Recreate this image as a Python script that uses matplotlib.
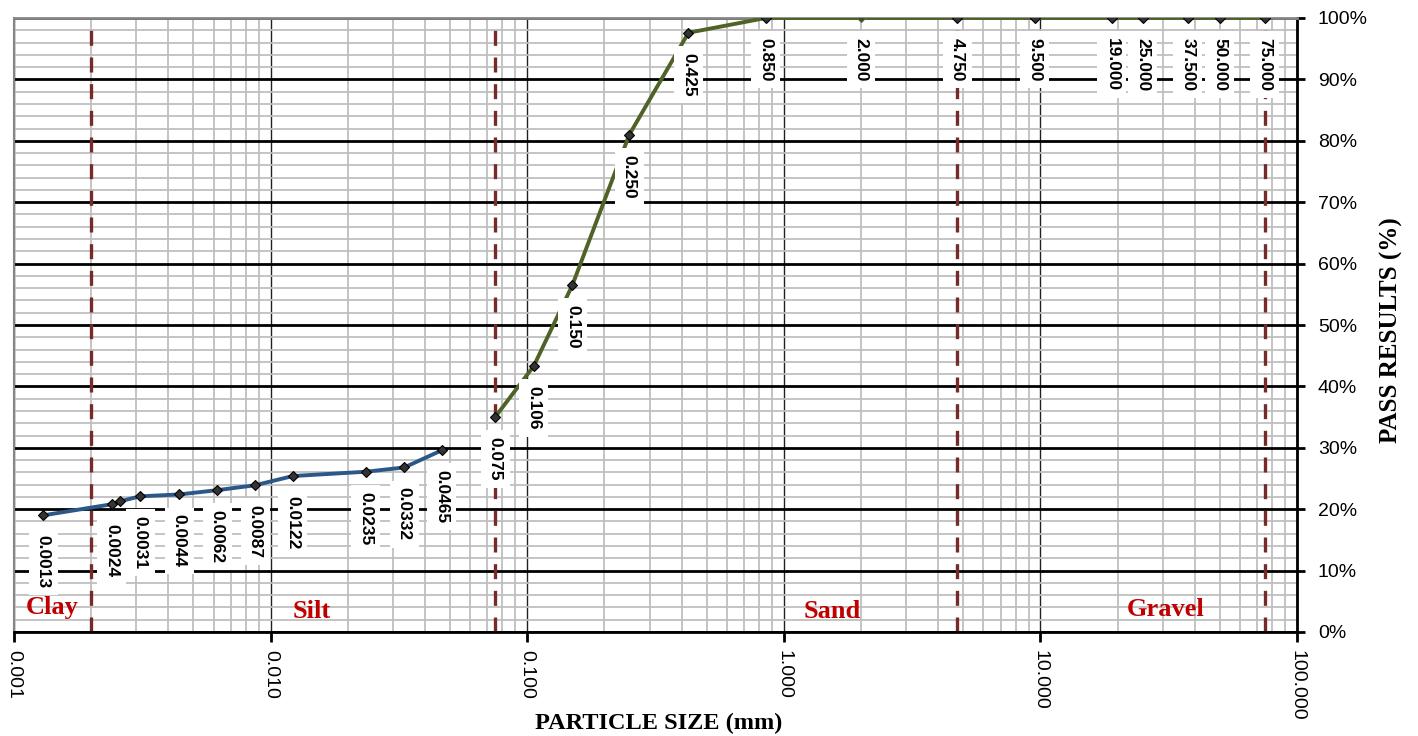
import numpy as np
import matplotlib
matplotlib.use("Agg")
import matplotlib.pyplot as plt
from matplotlib.ticker import FixedLocator, FuncFormatter, NullFormatter

# Hydrometer analysis (fine fraction)
hydro_size = [0.0013, 0.0024, 0.0026, 0.0031, 0.0044, 0.0062, 0.0087, 0.0122, 0.0235, 0.0332, 0.0465]
hydro_pass = [19.0, 20.8, 21.3, 22.1, 22.4, 23.1, 23.9, 25.4, 26.1, 26.8, 29.6]
hydro_labels = ["0.0013", "0.0024", None, "0.0031", "0.0044", "0.0062", "0.0087",
                "0.0122", "0.0235", "0.0332", "0.0465"]

# Sieve analysis (coarse fraction)
sieve_size = [0.075, 0.106, 0.150, 0.250, 0.425, 0.850, 2.0, 4.75, 9.5, 19.0, 25.0, 37.5, 50.0, 75.0]
sieve_pass = [35.0, 43.3, 56.5, 81.0, 97.6, 100.0, 100.0, 100.0, 100.0, 100.0, 100.0, 100.0, 100.0, 100.0]
sieve_labels = ["0.075", "0.106", "0.150", "0.250", "0.425", "0.850", "2.000", "4.750",
                "9.500", "19.000", "25.000", "37.500", "50.000", "75.000"]

# Soil class boundaries (mm) and class names
boundaries = [0.002, 0.075, 4.75, 75.0]
class_names = ["Clay", "Silt", "Sand", "Gravel"]
class_x = [0.00141, 0.0144, 1.55, 30.9]
class_y = [2.9, 2.3, 2.2, 2.65]

x_ticks = [0.001, 0.01, 0.1, 1.0, 10.0, 100.0]
y_ticks = list(range(0, 101, 10))

BLUE = "#2B5887"
GREEN = "#4F6228"
DASH = "#762A2A"
RED = "#C00000"

fig = plt.figure(figsize=(14.18, 7.36), dpi=100)
ax = fig.add_axes([14 / 1418, 1 - 632 / 736, (1297 - 14) / 1418, (632 - 18) / 736])
ax.set_xscale("log")
ax.set_xlim(0.001, 100)
ax.set_ylim(0, 100)

# Grid
ax.xaxis.set_major_locator(FixedLocator(x_ticks))
minor_x = [m * d for d in [0.001, 0.01, 0.1, 1, 10] for m in range(2, 10)]
ax.xaxis.set_minor_locator(FixedLocator(minor_x))
ax.xaxis.set_minor_formatter(NullFormatter())
ax.yaxis.set_major_locator(FixedLocator(y_ticks))
ax.yaxis.set_minor_locator(FixedLocator(list(range(0, 101, 2))))
ax.set_axisbelow(True)
ax.grid(which="minor", color="#BFBFBF", lw=1.3)
ax.yaxis.grid(which="major", color="black", lw=2.0)
ax.xaxis.grid(which="major", color="#202020", lw=1.0)

# Ticks and labels
ax.yaxis.tick_right()
ax.yaxis.set_major_formatter(FuncFormatter(lambda v, p: f"{v:.0f}%"))
ax.xaxis.set_major_formatter(FuncFormatter(lambda v, p: f"{v:.3f}"))
ax.tick_params(axis="both", which="minor", length=0)
ax.tick_params(axis="x", which="major", length=7, width=2, color="black",
               labelsize=14, pad=6, labelrotation=-90)
ax.tick_params(axis="y", which="major", length=6, width=2, color="black",
               labelsize=14, pad=9)
for lab in ax.get_xticklabels():
    lab.set_fontfamily("Liberation Sans")
    lab.set_va("top")
    lab.set_ha("center")
for lab in ax.get_yticklabels():
    lab.set_fontfamily("Liberation Sans")

ax.spines["left"].set_color("#868686")
ax.spines["left"].set_linewidth(1.5)
ax.spines["top"].set_color("#868686")
ax.spines["top"].set_linewidth(2)
ax.spines["right"].set_color("black")
ax.spines["right"].set_linewidth(2)
ax.spines["bottom"].set_color("black")
ax.spines["bottom"].set_linewidth(2)

# Class boundary lines
for b in boundaries:
    ax.axvline(b, color=DASH, lw=2.4, dashes=(4.5, 3.5), zorder=2)

# Grading curves
ax.plot(hydro_size, hydro_pass, color=BLUE, lw=2.8, zorder=3, solid_joinstyle="round")
ax.plot(sieve_size, sieve_pass, color=GREEN, lw=2.8, zorder=3, solid_joinstyle="round")

# Markers
ax.plot(hydro_size, hydro_pass, ls="none", marker="D", ms=5.5, mfc="#333333",
        mec="black", mew=0.8, zorder=4)
sieve_idx = [i for i, lab in enumerate(sieve_labels) if lab != "2.000"]
ax.plot([sieve_size[i] for i in sieve_idx], [sieve_pass[i] for i in sieve_idx], ls="none",
        marker="D", ms=5.5, mfc="#333333", mec="black", mew=0.8, zorder=4)
two = sieve_labels.index("2.000")
ax.plot([sieve_size[two]], [sieve_pass[two]], ls="none", marker="D", ms=4.5,
        mfc="#3E4A2C", mec="#5A6B3A", mew=0.8, zorder=4)

# Data labels
for xs, ys, labs in [(hydro_size, hydro_pass, hydro_labels), (sieve_size, sieve_pass, sieve_labels)]:
    for x, y, lab in zip(xs, ys, labs):
        if lab is None:
            continue
        ax.annotate(lab, xy=(x, y), xytext=(0, -20), textcoords="offset pixels",
                    rotation=-90, ha="center", va="top", fontsize=12.5, fontweight="bold",
                    fontfamily="Liberation Sans", color="black", zorder=6,
                    bbox=dict(boxstyle="square,pad=0.4", fc="white", ec="none"))

# Soil class names
for name, x, y in zip(class_names, class_x, class_y):
    ax.text(x, y, name, ha="center", va="baseline", color=RED, fontsize=19,
            fontweight="bold", fontfamily="Liberation Serif", zorder=5)

fig.text(659 / 1418, 1 - 723 / 736, "PARTICLE SIZE (mm)", ha="center", va="center",
         fontsize=17.5, fontweight="bold", fontfamily="Liberation Serif")
fig.text(1391 / 1418, 1 - 330 / 736, "PASS RESULTS (%)", ha="center", va="center",
         rotation=90, fontsize=18, fontweight="bold", fontfamily="Liberation Serif")

fig.savefig("out.png", dpi=100, facecolor="white")
